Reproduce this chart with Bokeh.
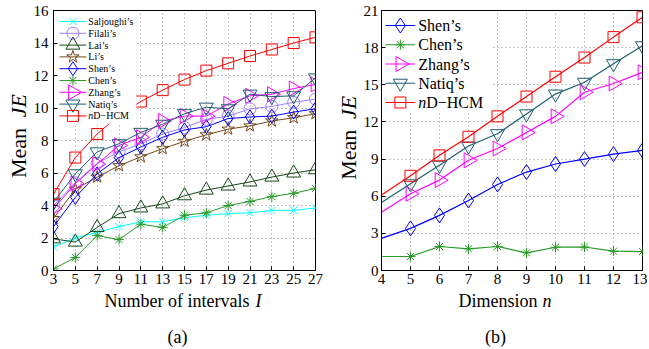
import math
from bokeh.plotting import figure
from bokeh.models import FixedTicker, Range1d, ColumnDataSource
from bokeh.core.properties import value
from bokeh.layouts import row, column
from bokeh.embed import file_html
from bokeh.resources import INLINE

# ---------------- data (a) ----------------
intervals = [3, 5, 7, 9, 11, 13, 15, 17, 19, 21, 23, 25, 27]
saljoughi = [1.45, 2.0, 2.35, 2.7, 3.0, 3.0, 3.25, 3.4, 3.5, 3.55, 3.7, 3.7, 3.85]
filali = [4.0, 5.4, 6.6, 7.3, 7.8, 8.4, 8.8, 9.3, 9.5, 9.95, 10.1, 10.35, 10.55]
lai = [1.95, 1.75, 2.65, 3.5, 3.85, 4.1, 4.6, 4.95, 5.2, 5.45, 5.75, 6.0, 6.2]
li = [3.2, 5.0, 5.75, 6.45, 7.0, 7.5, 7.95, 8.35, 8.7, 8.9, 9.2, 9.4, 9.65]
shen_a = [2.7, 4.5, 5.95, 6.95, 7.6, 8.2, 8.65, 8.85, 9.35, 9.45, 9.5, 9.75, 9.95]
chen_a = [0.1, 0.8, 2.15, 1.9, 2.85, 2.65, 3.4, 3.55, 4.0, 4.25, 4.55, 4.75, 5.05]
zhang_a = [3.8, 5.35, 6.55, 7.7, 8.2, 9.2, 9.5, 9.5, 10.25, 10.75, 10.85, 11.2, 11.45]
natiq_a = [4.2, 5.95, 7.3, 7.8, 8.5, 9.0, 9.65, 10.05, 9.95, 10.85, 10.7, 10.75, 11.85]
hcm_a = [4.7, 6.95, 8.4, 9.55, 10.4, 11.1, 11.75, 12.3, 12.75, 13.2, 13.6, 14.0, 14.35]
yticks_a = [0, 2, 4, 6, 8, 10, 12, 14, 16]

# ---------------- data (b) ----------------
dims = [4, 5, 6, 7, 8, 9, 10, 11, 12, 13]
shen_b = [2.6, 3.4, 4.45, 5.65, 6.95, 7.95, 8.6, 9.0, 9.4, 9.7]
chen_b = [1.13, 1.13, 1.94, 1.75, 1.94, 1.43, 1.88, 1.9, 1.56, 1.53]
zhang_b = [4.7, 6.2, 7.3, 8.9, 9.85, 11.15, 12.45, 14.4, 15.1, 16.0]
natiq_b = [5.5, 7.0, 8.5, 10.05, 11.05, 12.65, 14.25, 15.2, 16.7, 18.15]
hcm_b = [6.1, 7.65, 9.3, 10.8, 12.45, 14.05, 15.65, 17.2, 18.85, 20.45]
yticks_b = [0, 3, 6, 9, 12, 15, 18, 21]

# ---------------- texts ----------------
xlabel_a = ["Number of intervals", "I"]
xlabel_b = ["Dimension", "n"]
ylabel = ["Mean", "JE"]
panel_a = "(a)"
panel_b = "(b)"
hcm_label = ["n", "D\u2212HCM"]

FONT = "Liberation Serif"
FRAME_W = 263
FRAME_H = 260
TOP = 10
BOTTOM = 20
MAIN_H = TOP + FRAME_H + BOTTOM  # 290
TOTAL_H = 348
STRIP_H = TOTAL_H - MAIN_H       # 58
MID = 0.3375                     # baseline offset of a "middle" anchor (in em)
YL = 22                          # y label font size (px)
XL_BASE = 306.2                  # page baseline of the x labels
PANEL_BASE = 342.5               # page baseline of (a) / (b)

C_SAL = "#00FFFF"
C_FIL = "#9F7FFF"
C_LAI = "#174A17"
C_LI = "#74481A"
C_SHEN = "#0000FF"
C_CHEN = "#2A9A2A"
C_ZHANG = "#FF00FF"
C_NATIQ = "#1E5E70"
C_HCM = "#FF0000"


def make_fig(xr, yr, xticks, yticks, bl, br, ystand):
    p = figure(width=bl + FRAME_W + br, height=MAIN_H,
               x_range=Range1d(*xr), y_range=Range1d(*yr),
               output_backend="svg", toolbar_location=None,
               min_border_left=bl, min_border_right=br,
               min_border_top=TOP, min_border_bottom=BOTTOM)
    xt = FixedTicker(ticks=xticks)
    yt = FixedTicker(ticks=yticks)
    p.xaxis.ticker = xt
    p.yaxis.ticker = yt
    p.xgrid.ticker = xt
    p.ygrid.ticker = yt
    for ax in (p.xaxis[0], p.yaxis[0]):
        ax.major_label_text_font = FONT
        ax.major_label_text_font_size = "15px"
        ax.major_label_text_color = "black"
        ax.major_tick_in = 4
        ax.major_tick_out = 0
        ax.minor_tick_line_color = None
        ax.axis_line_color = "black"
        ax.major_tick_line_color = "black"
    p.xaxis.major_label_standoff = 3
    p.yaxis.major_label_standoff = ystand
    p.outline_line_color = "black"
    p.outline_line_alpha = 1
    p.grid.grid_line_color = "#8a8a8a"
    p.grid.grid_line_dash = "1 3"
    p.grid.grid_line_width = 1
    p.background_fill_color = "white"
    p.border_fill_color = "white"
    return p


def strip(w, h):
    f = figure(width=w, height=h, x_range=Range1d(0, w), y_range=Range1d(0, h),
               output_backend="svg", toolbar_location=None, min_border=0,
               x_axis_type=None, y_axis_type=None)
    f.outline_line_color = None
    f.background_fill_color = "white"
    f.border_fill_color = "white"
    return f


def txt(f, x, y, text, size, align, angle=0, italic=False):
    f.text(x=[x], y=[y], text=[text], text_font=value(FONT), text_font_size=size,
           text_font_style="italic" if italic else "normal",
           text_align=align, text_baseline="middle", angle=angle, text_color="black")


def add_legend(p, xr, yr, series, first, step, x_line0, x_line1, x_text, size,
               n_w, box_w, box_h):
    sx = lambda px: xr[0] + px * (xr[1] - xr[0]) / FRAME_W
    sy = lambda px: yr[1] - px * (yr[1] - yr[0]) / FRAME_H
    # white background of the legend box
    p.quad(left=[sx(0.5)], right=[sx(box_w)], top=[sy(1)], bottom=[sy(box_h)],
           fill_color="white", line_color=None)
    ys = [sy(first + step * k) for k in range(len(series))]
    names = [s[0] for s in series]
    cols = [s[2] for s in series]
    src = ColumnDataSource(dict(
        x0=[sx(x_line0)] * len(series), x1=[sx(x_line1)] * len(series),
        xm=[sx((x_line0 + x_line1) / 2)] * len(series), y=ys, color=cols,
        marker=[s[3] for s in series], size=[s[4] for s in series],
        angle=[s[5] for s in series]))
    p.segment(x0="x0", y0="y", x1="x1", y1="y", line_color="color", line_width=1,
              source=src)
    p.scatter(x="xm", y="y", marker="marker", size="size", angle="angle",
              line_color="color", fill_color=None, line_width=1, source=src)
    for nm, yv in zip(names, ys):
        if nm == "HCM":
            txt(p, sx(x_text), yv, hcm_label[0], size, "left", italic=True)
            txt(p, sx(x_text + n_w), yv, hcm_label[1], size, "left")
        else:
            txt(p, sx(x_text), yv, nm, size, "left")


# ---------------- figure (a) ----------------
pa = make_fig((3, 27), (0, 16), intervals, yticks_a, 22, 15, 5)
series_a = [
    ("Saljoughi\u2019s", saljoughi, C_SAL, "x", 10, 0),
    ("Filali\u2019s", filali, C_FIL, "circle", 12, 0),
    ("Lai\u2019s", lai, C_LAI, "triangle", 14, 0),
    ("Li\u2019s", li, C_LI, "star", 13, 0),
    ("Shen\u2019s", shen_a, C_SHEN, "diamond", 14, 0),
    ("Chen\u2019s", chen_a, C_CHEN, "asterisk", 10, 0),
    ("Zhang\u2019s", zhang_a, C_ZHANG, "triangle", 15, -math.pi / 2),
    ("Natiq\u2019s", natiq_a, C_NATIQ, "inverted_triangle", 14, 0),
    ("HCM", hcm_a, C_HCM, "square", 11, 0),
]
for name, ys, col, mk, sz, ang in series_a:
    pa.line(intervals, ys, line_color=col, line_width=1)
    pa.scatter(intervals, ys, marker=mk, size=sz, angle=ang,
               line_color=col, fill_color=None, line_width=1)
add_legend(pa, (3, 27), (0, 16), series_a, first=11, step=11.8,
           x_line0=6, x_line1=33, x_text=35, size="10px", n_w=5,
           box_w=83, box_h=113)

# y label strip (page x 0..30, page y 0..290)
ylab_a = strip(30, MAIN_H)
txt(ylab_a, 25 - MID * YL, MAIN_H - 131, ylabel[0], f"{YL}px", "right", angle=math.pi / 2)
txt(ylab_a, 25 - MID * YL, MAIN_H - 119, ylabel[1], f"{YL}px", "left", angle=math.pi / 2, italic=True)

# x label strip (page x 0..330, page y 290..348)
xlab_a = strip(330, STRIP_H)
txt(xlab_a, 249, TOTAL_H - (XL_BASE - MID * 18), xlabel_a[0], "18px", "right")
txt(xlab_a, 255, TOTAL_H - (XL_BASE - MID * 18), xlabel_a[1], "18px", "left", italic=True)
txt(xlab_a, 177, TOTAL_H - (PANEL_BASE - MID * 18), panel_a, "18px", "center")

# ---------------- figure (b) ----------------
pb = make_fig((4, 13), (0, 21), dims, yticks_b, 19, 5, 3)
series_b = [
    ("Shen\u2019s", shen_b, C_SHEN, "diamond", 15, 0),
    ("Chen\u2019s", chen_b, C_CHEN, "asterisk", 10, 0),
    ("Zhang\u2019s", zhang_b, C_ZHANG, "triangle", 15, -math.pi / 2),
    ("Natiq\u2019s", natiq_b, C_NATIQ, "inverted_triangle", 14, 0),
    ("HCM", hcm_b, C_HCM, "square", 11, 0),
]
for name, ys, col, mk, sz, ang in series_b:
    pb.line(dims, ys, line_color=col, line_width=1.2)
    pb.scatter(dims[1:], ys[1:], marker=mk, size=sz, angle=ang,
               line_color=col, fill_color=None, line_width=1)
add_legend(pb, (4, 13), (0, 21), series_b, first=15, step=19.25,
           x_line0=4, x_line1=34, x_text=37, size="16px", n_w=8,
           box_w=111, box_h=100)

# y label strip (page x 330..360)
ylab_b = strip(30, MAIN_H)
txt(ylab_b, 355 - 330 - MID * YL, MAIN_H - 133, ylabel[0], f"{YL}px", "right", angle=math.pi / 2)
txt(ylab_b, 355 - 330 - MID * YL, MAIN_H - 121, ylabel[1], f"{YL}px", "left", angle=math.pi / 2, italic=True)

# x label strip (page x 330..647)
xlab_b = strip(317, STRIP_H)
txt(xlab_b, 537 - 330, TOTAL_H - (XL_BASE - MID * 18), xlabel_b[0], "18px", "right")
txt(xlab_b, 542 - 330, TOTAL_H - (XL_BASE - MID * 18), xlabel_b[1], "18px", "left", italic=True)
txt(xlab_b, 495 - 330, TOTAL_H - (PANEL_BASE - MID * 18), panel_b, "18px", "center")

layout = row(column(row(ylab_a, pa), xlab_a), column(row(ylab_b, pb), xlab_b))
open("out.html", "w").write(file_html(layout, INLINE))
